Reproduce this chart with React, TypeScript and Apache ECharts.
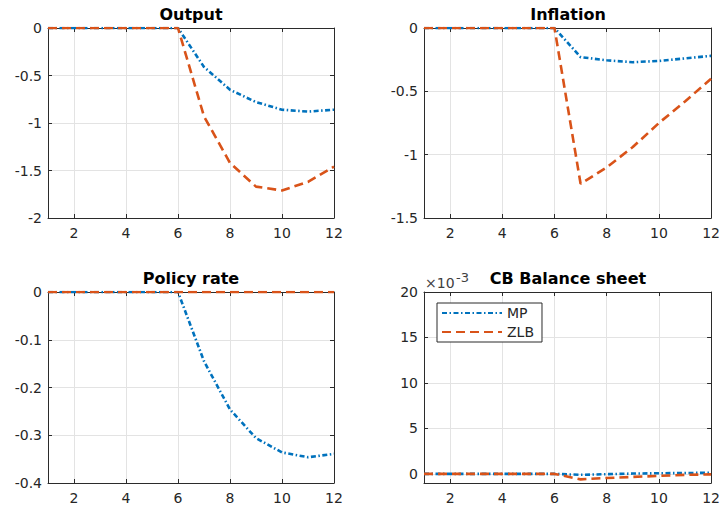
import React, { useEffect, useRef } from "react";
import * as echarts from "echarts";

// Impulse responses over 12 periods: monetary-policy rule (MP) vs. zero lower bound (ZLB)
const periods = [1, 2, 3, 4, 5, 6, 7, 8, 9, 10, 11, 12];
const xTicks = [2, 4, 6, 8, 10, 12];

const outputMP = [0, 0, 0, 0, 0, 0, -0.41, -0.65, -0.78, -0.86, -0.88, -0.86];
const outputZLB = [0, 0, 0, 0, 0, 0, -0.93, -1.42, -1.67, -1.71, -1.62, -1.46];

const inflationMP = [0, 0, 0, 0, 0, 0, -0.23, -0.255, -0.27, -0.26, -0.24, -0.22];
const inflationZLB = [0, 0, 0, 0, 0, 0, -1.23, -1.1, -0.94, -0.75, -0.58, -0.4];

const policyMP = [0, 0, 0, 0, 0, 0, -0.145, -0.246, -0.306, -0.336, -0.346, -0.339];
const policyZLB = [0, 0, 0, 0, 0, 0, 0, 0, 0, 0, 0, 0];

// balance sheet values in units of 1e-3
const cbMP = [0, 0, 0, 0, 0, 0, -0.1, -0.03, 0.04, 0.07, 0.1, 0.12];
const cbZLB = [0, 0, 0, 0, 0, 0, -0.6, -0.45, -0.33, -0.22, -0.1, -0.05];
const cbTicks = [0, 5, 10, 15, 20];

const panelTitles = ["Output", "Inflation", "Policy rate", "CB Balance sheet"];
const seriesNames = ["MP", "ZLB"];

const FONT = "DejaVu Sans";
const AXIS_COLOR = "#2b2b2b";
const TEXT_COLOR = "#262626";
const GRID_COLOR = "#e3e3e3";
const MP_COLOR = "#0072BD";
const ZLB_COLOR = "#D95319";

const panels = [
  { left: 48, top: 28, width: 286, height: 190, yMin: -2, yMax: 0, yInterval: 0.5, mp: outputMP, zlb: outputZLB },
  { left: 424, top: 28, width: 288, height: 190, yMin: -1.5, yMax: 0, yInterval: 0.5, mp: inflationMP, zlb: inflationZLB },
  { left: 48, top: 292, width: 286, height: 191, yMin: -0.4, yMax: 0, yInterval: 0.1, mp: policyMP, zlb: policyZLB },
  { left: 424, top: 292, width: 288, height: 191, yMin: -1, yMax: 20, yTicks: cbTicks, mp: cbMP, zlb: cbZLB },
];

const toPairs = (vals: number[]) => periods.map((p, i) => [p, vals[i]]);

export default function App() {
  const ref = useRef<HTMLDivElement>(null);

  useEffect(() => {
    if (!ref.current) return;
    const chart = echarts.init(ref.current, null, { renderer: "svg" });

    const grid: any[] = [];
    const xAxis: any[] = [];
    const yAxis: any[] = [];
    const series: any[] = [];
    const graphic: any[] = [];

    panels.forEach((p, g) => {
      grid.push({ left: p.left, top: p.top, width: p.width, height: p.height, containLabel: false });

      const baseLine = { show: true, onZero: false, lineStyle: { color: AXIS_COLOR, width: 1 } };
      const tickIn = { show: true, inside: true, length: 4, lineStyle: { color: AXIS_COLOR, width: 1 } };

      // bottom x axis with labels and grid lines
      xAxis.push({
        type: "value",
        gridIndex: g,
        position: "bottom",
        min: 1,
        max: 12,
        axisLine: baseLine,
        axisTick: { ...tickIn, customValues: xTicks },
        axisLabel: {
          customValues: xTicks,
          color: TEXT_COLOR,
          fontFamily: FONT,
          fontSize: 14,
          margin: 8,
        },
        splitLine: { show: true, lineStyle: { color: GRID_COLOR, width: 1 } },
      });
      // top x axis closes the box
      xAxis.push({
        type: "value",
        gridIndex: g,
        position: "top",
        min: 1,
        max: 12,
        axisLine: baseLine,
        axisTick: { ...tickIn, customValues: xTicks },
        axisLabel: { show: false },
        splitLine: { show: false },
      });

      const yTickCfg = p.yTicks ? { ...tickIn, customValues: p.yTicks } : tickIn;

      yAxis.push({
        type: "value",
        gridIndex: g,
        position: "left",
        min: p.yMin,
        max: p.yMax,
        interval: p.yTicks ? undefined : p.yInterval,
        axisLine: baseLine,
        axisTick: yTickCfg,
        axisLabel: {
          customValues: p.yTicks,
          color: TEXT_COLOR,
          fontFamily: FONT,
          fontSize: 14,
          margin: 6,
          formatter: (v: number) => String(Math.round(v * 1000) / 1000),
        },
        splitLine: { show: true, lineStyle: { color: GRID_COLOR, width: 1 } },
      });
      // right y axis closes the box
      yAxis.push({
        type: "value",
        gridIndex: g,
        position: "right",
        min: p.yMin,
        max: p.yMax,
        interval: p.yTicks ? undefined : p.yInterval,
        axisLine: baseLine,
        axisTick: yTickCfg,
        axisLabel: { show: false },
        splitLine: { show: false },
      });

      series.push({
        name: seriesNames[0],
        type: "line",
        xAxisIndex: 2 * g,
        yAxisIndex: 2 * g,
        data: toPairs(p.mp),
        symbol: "none",
        lineStyle: { color: MP_COLOR, width: 2.6, type: [5, 2.5, 1.5, 2.5], cap: "butt" },
        itemStyle: { color: MP_COLOR },
        z: 3,
      });
      series.push({
        name: seriesNames[1],
        type: "line",
        xAxisIndex: 2 * g,
        yAxisIndex: 2 * g,
        data: toPairs(p.zlb),
        symbol: "none",
        lineStyle: { color: ZLB_COLOR, width: 2.6, type: [9, 5], cap: "butt" },
        itemStyle: { color: ZLB_COLOR },
        z: 4,
      });

      graphic.push({
        type: "text",
        x: p.left + p.width / 2,
        y: p.top - 13.5,
        style: {
          text: panelTitles[g],
          fill: "#000",
          font: `bold 16px "${FONT}"`,
          textAlign: "center",
          textVerticalAlign: "middle",
        },
      });
    });

    // exponent marker for the balance sheet axis
    graphic.push({
      type: "text",
      x: 425,
      y: 283,
      style: { text: "×10", fill: "#404040", font: `14px "${FONT}"`, textAlign: "left", textVerticalAlign: "middle" },
    });
    graphic.push({
      type: "text",
      x: 456,
      y: 277,
      style: { text: "-3", fill: "#404040", font: `13px "${FONT}"`, textAlign: "left", textVerticalAlign: "middle" },
    });

    chart.setOption({
      animation: false,
      backgroundColor: "#ffffff",
      grid,
      xAxis,
      yAxis,
      series,
      graphic,
      legend: {
        data: seriesNames,
        orient: "vertical",
        left: 437,
        top: 303,
        padding: [3, 8, 3, 4],
        itemWidth: 60,
        itemHeight: 14,
        itemGap: 5,
        itemStyle: { opacity: 0 },
        borderColor: AXIS_COLOR,
        borderWidth: 1,
        backgroundColor: "#ffffff",
        textStyle: { color: TEXT_COLOR, fontFamily: FONT, fontSize: 14 },
      },
    });

    return () => chart.dispose();
  }, []);

  return (
    <div
      ref={ref}
      style={{ position: "fixed", left: 0, top: 0, width: 723, height: 507, background: "#fff" }}
    />
  );
}
